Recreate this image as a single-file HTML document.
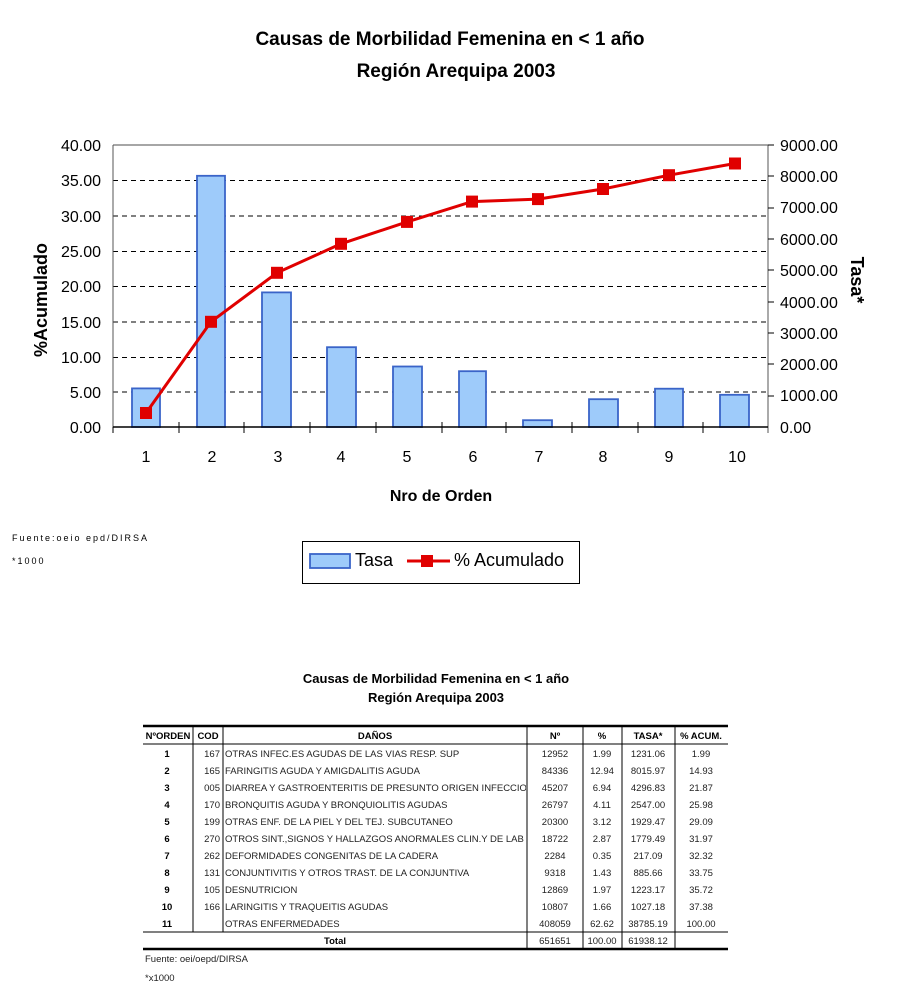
<!DOCTYPE html>
<html><head><meta charset="utf-8"><style>
html,body{margin:0;padding:0;background:#fff;width:900px;height:1000px;overflow:hidden}
svg{display:block;font-family:"Liberation Sans",Arial,sans-serif}
</style></head><body>
<svg width="900" height="1000" viewBox="0 0 900 1000">
<text x="450" y="45" text-anchor="middle" font-size="19" font-weight="bold">Causas de Morbilidad Femenina en &lt; 1 año</text>
<text x="456" y="77" text-anchor="middle" font-size="19" font-weight="bold">Región Arequipa 2003</text>
<!-- plot -->
<line x1="113" y1="145" x2="768" y2="145" stroke="#888" stroke-width="1.5"/>
<g stroke="#000" stroke-dasharray="5,4" stroke-width="1">
<line x1="113" y1="180.5" x2="768" y2="180.5"/>
<line x1="113" y1="216" x2="768" y2="216"/>
<line x1="113" y1="251.5" x2="768" y2="251.5"/>
<line x1="113" y1="286.5" x2="768" y2="286.5"/>
<line x1="113" y1="322" x2="768" y2="322"/>
<line x1="113" y1="357.5" x2="768" y2="357.5"/>
<line x1="113" y1="392" x2="768" y2="392"/>
</g>
<g fill="#9ecbfa" stroke="#3a64c8" stroke-width="1.8">
<rect x="132" y="388.4" width="28" height="38.6"/>
<rect x="197" y="175.8" width="28" height="251.2"/>
<rect x="262" y="292.4" width="29" height="134.6"/>
<rect x="327" y="347.2" width="29" height="79.8"/>
<rect x="393" y="366.5" width="29" height="60.5"/>
<rect x="459" y="371.2" width="27" height="55.8"/>
<rect x="523" y="420.2" width="29" height="6.8"/>
<rect x="589" y="399.2" width="29" height="27.8"/>
<rect x="655" y="388.7" width="28" height="38.3"/>
<rect x="720" y="394.8" width="29" height="32.2"/>
</g>
<line x1="113" y1="145" x2="113" y2="427" stroke="#555"/>
<line x1="768" y1="145" x2="768" y2="433" stroke="#555"/>
<line x1="113" y1="427" x2="768" y2="427" stroke="#000" stroke-width="1.5"/>
<g stroke="#000">
<line x1="113" y1="427" x2="113" y2="433"/><line x1="179" y1="422" x2="179" y2="433"/><line x1="244" y1="422" x2="244" y2="433"/><line x1="310" y1="422" x2="310" y2="433"/><line x1="376" y1="422" x2="376" y2="433"/><line x1="442" y1="422" x2="442" y2="433"/><line x1="506" y1="422" x2="506" y2="433"/><line x1="572" y1="422" x2="572" y2="433"/><line x1="638" y1="422" x2="638" y2="433"/><line x1="703" y1="422" x2="703" y2="433"/>
<line x1="768" y1="145" x2="774" y2="145"/><line x1="768" y1="176" x2="774" y2="176"/><line x1="768" y1="208" x2="774" y2="208"/><line x1="768" y1="239" x2="774" y2="239"/><line x1="768" y1="270" x2="774" y2="270"/><line x1="768" y1="302" x2="774" y2="302"/><line x1="768" y1="333" x2="774" y2="333"/><line x1="768" y1="364" x2="774" y2="364"/><line x1="768" y1="396" x2="774" y2="396"/>
</g>
<polyline fill="none" stroke="#e00000" stroke-width="3" points="146,413 211,321.8 277,272.8 341,243.8 407,221.9 472,201.6 538,199.1 603,189 669,175.2 735,163.5"/>
<g fill="#e00000">
<rect x="140" y="407" width="12" height="12"/><rect x="205" y="315.8" width="12" height="12"/><rect x="271" y="266.8" width="12" height="12"/><rect x="335" y="237.8" width="12" height="12"/><rect x="401" y="215.9" width="12" height="12"/><rect x="466" y="195.6" width="12" height="12"/><rect x="532" y="193.1" width="12" height="12"/><rect x="597" y="183" width="12" height="12"/><rect x="663" y="169.2" width="12" height="12"/><rect x="729" y="157.5" width="12" height="12"/>
</g>
<g font-size="16" text-anchor="end">
<text x="101" y="151">40.00</text><text x="101" y="186">35.00</text><text x="101" y="222">30.00</text><text x="101" y="257">25.00</text><text x="101" y="292">20.00</text><text x="101" y="328">15.00</text><text x="101" y="363">10.00</text><text x="101" y="398">5.00</text><text x="101" y="433">0.00</text>
</g>
<g font-size="16">
<text x="780" y="151">9000.00</text><text x="780" y="182">8000.00</text><text x="780" y="213">7000.00</text><text x="780" y="245">6000.00</text><text x="780" y="276">5000.00</text><text x="780" y="308">4000.00</text><text x="780" y="339">3000.00</text><text x="780" y="370">2000.00</text><text x="780" y="401">1000.00</text><text x="780" y="433">0.00</text>
</g>
<g font-size="16" text-anchor="middle">
<text x="146" y="462">1</text><text x="212" y="462">2</text><text x="278" y="462">3</text><text x="341" y="462">4</text><text x="407" y="462">5</text><text x="473" y="462">6</text><text x="539" y="462">7</text><text x="603" y="462">8</text><text x="669" y="462">9</text><text x="737" y="462">10</text>
</g>
<text x="441" y="501" text-anchor="middle" font-size="16" font-weight="bold">Nro de Orden</text>
<text transform="translate(47,300) rotate(-90)" text-anchor="middle" font-size="18" font-weight="bold">%Acumulado</text>
<text transform="translate(851,280) rotate(90)" text-anchor="middle" font-size="18" font-weight="bold">Tasa*</text>
<text x="12" y="541" font-size="9" letter-spacing="2">Fuente:oeio epd/DIRSA</text>
<text x="12" y="564" font-size="9" letter-spacing="2">*1000</text>
<rect x="302.5" y="541.5" width="277" height="42" fill="#fff" stroke="#000"/>
<rect x="310" y="554" width="40" height="14" fill="#9ecbfa" stroke="#3a64c8" stroke-width="1.8"/>
<text x="355" y="566" font-size="18">Tasa</text>
<line x1="407" y1="561" x2="450" y2="561" stroke="#e00000" stroke-width="3"/>
<rect x="421" y="555" width="12" height="12" fill="#e00000"/>
<text x="454" y="566" font-size="18">% Acumulado</text>
<!-- table -->
<text x="436" y="683" text-anchor="middle" font-size="13" font-weight="bold">Causas de Morbilidad Femenina en &lt; 1 año</text>
<text x="436" y="702" text-anchor="middle" font-size="13" font-weight="bold">Región Arequipa 2003</text>
<line x1="143" y1="726" x2="728" y2="726" stroke="#000" stroke-width="2.5"/>
<line x1="143" y1="744" x2="728" y2="744" stroke="#000" stroke-width="1"/>
<line x1="143" y1="932" x2="728" y2="932" stroke="#000" stroke-width="1"/>
<line x1="143" y1="949" x2="728" y2="949" stroke="#000" stroke-width="2.5"/>
<g stroke="#000" stroke-width="1">
<line x1="193" y1="726" x2="193" y2="932"/><line x1="223" y1="726" x2="223" y2="932"/>
<line x1="527" y1="726" x2="527" y2="949"/><line x1="583" y1="726" x2="583" y2="949"/><line x1="622" y1="726" x2="622" y2="949"/><line x1="675" y1="726" x2="675" y2="949"/>
</g>
<g font-size="9.5" font-weight="bold" text-anchor="middle">
<text x="168" y="739">NºORDEN</text><text x="208" y="739">COD</text><text x="375" y="739">DAÑOS</text><text x="555" y="739">Nº</text><text x="602" y="739">%</text><text x="648" y="739">TASA*</text><text x="701" y="739">% ACUM.</text>
</g>
<clipPath id="c"><rect x="224" y="744" width="302" height="190"/></clipPath>
<g font-size="9.5" font-weight="bold" text-anchor="middle">
<text x="167" y="757">1</text><text x="167" y="774">2</text><text x="167" y="791">3</text><text x="167" y="808">4</text><text x="167" y="825">5</text><text x="167" y="842">6</text><text x="167" y="859">7</text><text x="167" y="876">8</text><text x="167" y="893">9</text><text x="167" y="910">10</text><text x="167" y="927">11</text><text x="335" y="944">Total</text>
</g>
<g font-size="9.5" fill="#222">
<g text-anchor="end"><text x="220" y="757">167</text><text x="220" y="774">165</text><text x="220" y="791">005</text><text x="220" y="808">170</text><text x="220" y="825">199</text><text x="220" y="842">270</text><text x="220" y="859">262</text><text x="220" y="876">131</text><text x="220" y="893">105</text><text x="220" y="910">166</text></g>
<g clip-path="url(#c)"><text x="225" y="757">OTRAS INFEC.ES AGUDAS DE LAS VIAS RESP. SUP</text><text x="225" y="774">FARINGITIS AGUDA Y AMIGDALITIS AGUDA</text><text x="225" y="791">DIARREA Y GASTROENTERITIS DE PRESUNTO ORIGEN INFECCIOSO</text><text x="225" y="808">BRONQUITIS AGUDA Y BRONQUIOLITIS AGUDAS</text><text x="225" y="825">OTRAS ENF. DE LA PIEL Y DEL TEJ. SUBCUTANEO</text><text x="225" y="842">OTROS SINT.,SIGNOS Y HALLAZGOS ANORMALES CLIN.Y DE LAB</text><text x="225" y="859">DEFORMIDADES CONGENITAS DE LA CADERA</text><text x="225" y="876">CONJUNTIVITIS Y OTROS TRAST. DE LA CONJUNTIVA</text><text x="225" y="893">DESNUTRICION</text><text x="225" y="910">LARINGITIS Y TRAQUEITIS AGUDAS</text><text x="225" y="927">OTRAS ENFERMEDADES</text></g>
<g text-anchor="middle">
<text x="555" y="757">12952</text><text x="555" y="774">84336</text><text x="555" y="791">45207</text><text x="555" y="808">26797</text><text x="555" y="825">20300</text><text x="555" y="842">18722</text><text x="555" y="859">2284</text><text x="555" y="876">9318</text><text x="555" y="893">12869</text><text x="555" y="910">10807</text><text x="555" y="927">408059</text><text x="555" y="944">651651</text>
<text x="602" y="757">1.99</text><text x="602" y="774">12.94</text><text x="602" y="791">6.94</text><text x="602" y="808">4.11</text><text x="602" y="825">3.12</text><text x="602" y="842">2.87</text><text x="602" y="859">0.35</text><text x="602" y="876">1.43</text><text x="602" y="893">1.97</text><text x="602" y="910">1.66</text><text x="602" y="927">62.62</text><text x="602" y="944">100.00</text>
<text x="648" y="757">1231.06</text><text x="648" y="774">8015.97</text><text x="648" y="791">4296.83</text><text x="648" y="808">2547.00</text><text x="648" y="825">1929.47</text><text x="648" y="842">1779.49</text><text x="648" y="859">217.09</text><text x="648" y="876">885.66</text><text x="648" y="893">1223.17</text><text x="648" y="910">1027.18</text><text x="648" y="927">38785.19</text><text x="648" y="944">61938.12</text>
<text x="701" y="757">1.99</text><text x="701" y="774">14.93</text><text x="701" y="791">21.87</text><text x="701" y="808">25.98</text><text x="701" y="825">29.09</text><text x="701" y="842">31.97</text><text x="701" y="859">32.32</text><text x="701" y="876">33.75</text><text x="701" y="893">35.72</text><text x="701" y="910">37.38</text><text x="701" y="927">100.00</text>
</g>
<text x="145" y="962">Fuente: oei/oepd/DIRSA</text>
<text x="145" y="981">*x1000</text>
</g>
</svg>
</body></html>
